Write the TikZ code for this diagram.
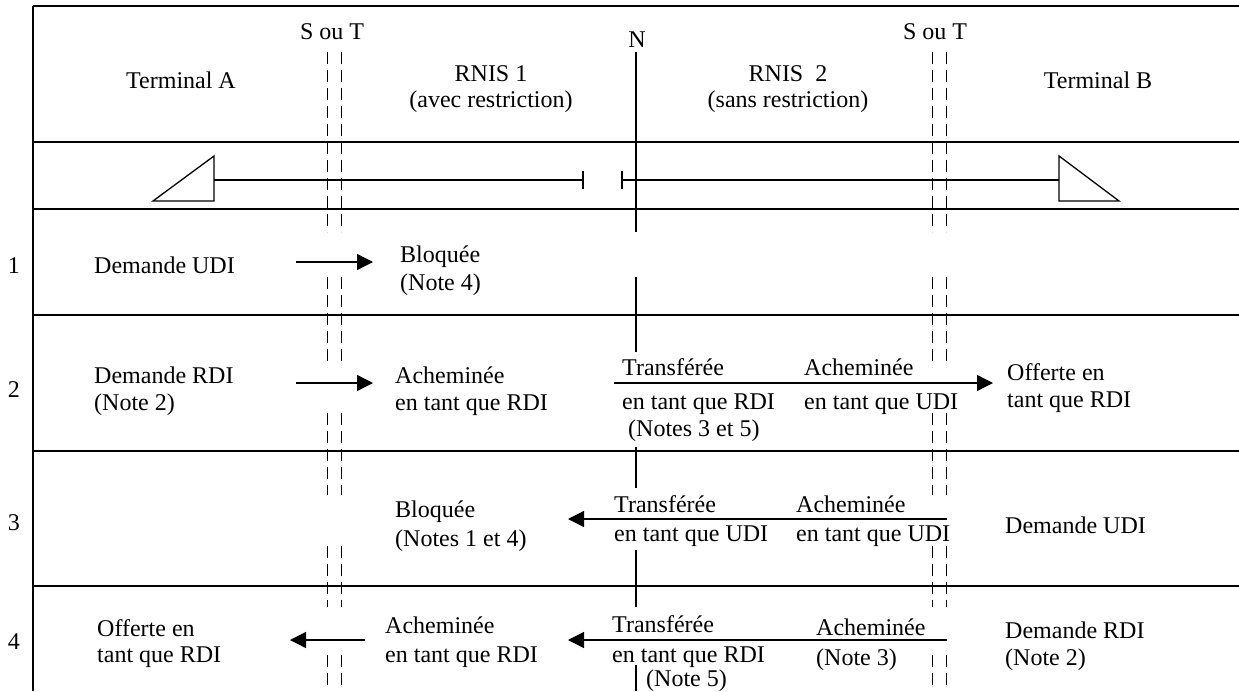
\documentclass[tikz,border=0pt]{standalone}
\usepackage{fontspec}
\setmainfont{Liberation Serif}
\usetikzlibrary{arrows.meta, positioning}

\begin{document}
\begin{tikzpicture}[
    x=1pt, y=-1pt,
    txt/.style={anchor=base west, inner sep=0pt, align=left,
                font=\fontsize{24}{27.5}\selectfont},
    ctr/.style={anchor=base, inner sep=0pt, align=center,
                font=\fontsize{24}{26}\selectfont},
    tline/.style={line width=1.3pt},
    iface/.style={line width=1pt, dash pattern=on 12pt off 6pt},
    arr/.style={-{Triangle[length=16pt, width=16pt]}, line width=1.3pt},
  ]
  \useasboundingbox (0,0) rectangle (1239,691);

  % Frame and row separators
  \draw[tline] (33,6) -- (1239,6);
  \draw[tline] (33,6) -- (33,691);
  \foreach \y in {142,209,315,451,586}
    \draw[tline] (33,\y) -- (1239,\y);

  % Header (multi-line nodes sit on their last baseline)
  \node[ctr] (st1) at (332,39) {S ou T};
  \node[ctr] (st2) at (935,39) {S ou T};
  \node[ctr] (nref) at (637,47) {N};
  \node[ctr] (terma) at (181,88) {Terminal A};
  \node[ctr] (rnis1) at (491,107) {RNIS 1\\(avec restriction)};
  \node[ctr] (rnis2) at (788,107) {RNIS\ \ 2\\(sans restriction)};
  \node[ctr] (termb) at (1098,88) {Terminal B};

  % Interfaces S/T and N
  \foreach \x in {327,341,932,946}
    \foreach \a/\b in {52/232,277/367,413/495,546/607,655/691}
      \draw[iface] (\x,\a) -- (\x,\b);
  \foreach \a/\b in {52/232,277/352,447/488,550/607,665/691}
    \draw[tline] (636,\a) -- (636,\b);

  % Connection
  \draw[tline] (153,201) -- (214,156) -- (214,201) -- cycle;
  \draw[tline] (214,180) -- (583,180);
  \draw[tline] (583,171) -- (583,189);
  \draw[tline] (622,171) -- (622,189);
  \draw[tline] (622,180) -- (1059,180);
  \draw[tline] (1059,156) -- (1059,201) -- (1119,201) -- cycle;

  % Row numbers
  \node[ctr] (row1) at (14,273) {1};
  \node[ctr] (row2) at (14,397) {2};
  \node[ctr] (row3) at (14,530) {3};
  \node[ctr] (row4) at (14,649) {4};

  % Row 1
  \node[txt] (dudi1) at (94,273) {Demande UDI};
  \node[txt] (bloq1) at (400,290) {Bloquée\\(Note 4)};
  \coordinate (a1s) at (296,262);
  \coordinate (a1e) at (373,262);
  \draw[arr] (a1s) -- (a1e);

  % Row 2
  \node[txt] (drdi2) at (94,410) {Demande RDI\\[-1pt](Note 2)};
  \node[txt] (ache2a) at (395,410) {Acheminée\\[-1pt]en tant que RDI};
  \node[txt] (trans2) at (622,375) {Transférée};
  \node[txt] (trans2b) at (622,409) {en tant que RDI};
  \node[txt] (note2) at (628,436) {(Notes 3 et 5)};
  \node[txt] (ache2b) at (804,375) {Acheminée};
  \node[txt] (ache2c) at (804,409) {en tant que UDI};
  \node[txt] (offb2) at (1007,407) {Offerte en\\[-1pt]tant que RDI};
  \coordinate (a2s) at (296,383);
  \coordinate (a2e) at (373,383);
  \coordinate (b2s) at (614,383);
  \coordinate (b2e) at (993,383);
  \draw[arr] (a2s) -- (a2e);
  \draw[arr] (b2s) -- (b2e);

  % Row 3
  \node[txt] (bloq3) at (395,546) {Bloquée\\[1pt](Notes 1 et 4)};
  \node[txt] (trans3) at (614,512) {Transférée};
  \node[txt] (trans3b) at (614,541) {en tant que UDI};
  \node[txt] (ache3) at (796,512) {Acheminée};
  \node[txt] (ache3b) at (796,541) {en tant que UDI};
  \node[txt] (dudi3) at (1005,533) {Demande UDI};
  \coordinate (a3s) at (947,519);
  \coordinate (a3e) at (568,519);
  \draw[arr] (a3s) -- (a3e);

  % Row 4
  \node[txt] (offa4) at (97,662) {Offerte en\\[-2pt]tant que RDI};
  \node[txt] (ache4a) at (385,662) {Acheminée\\[1pt]en tant que RDI};
  \node[txt] (trans4) at (612,632) {Transférée};
  \node[txt] (trans4b) at (612,662) {en tant que RDI};
  \node[txt] (note4) at (646,686) {(Note 5)};
  \node[txt] (ache4b) at (816,665) {Acheminée\\[2pt](Note 3)};
  \node[txt] (drdi4) at (1005,665) {Demande RDI\\[-1pt](Note 2)};
  \coordinate (a4s) at (365,640);
  \coordinate (a4e) at (290,640);
  \coordinate (b4s) at (947,640);
  \coordinate (b4e) at (568,640);
  \draw[arr] (a4s) -- (a4e);
  \draw[arr] (b4s) -- (b4e);
\end{tikzpicture}
\end{document}
